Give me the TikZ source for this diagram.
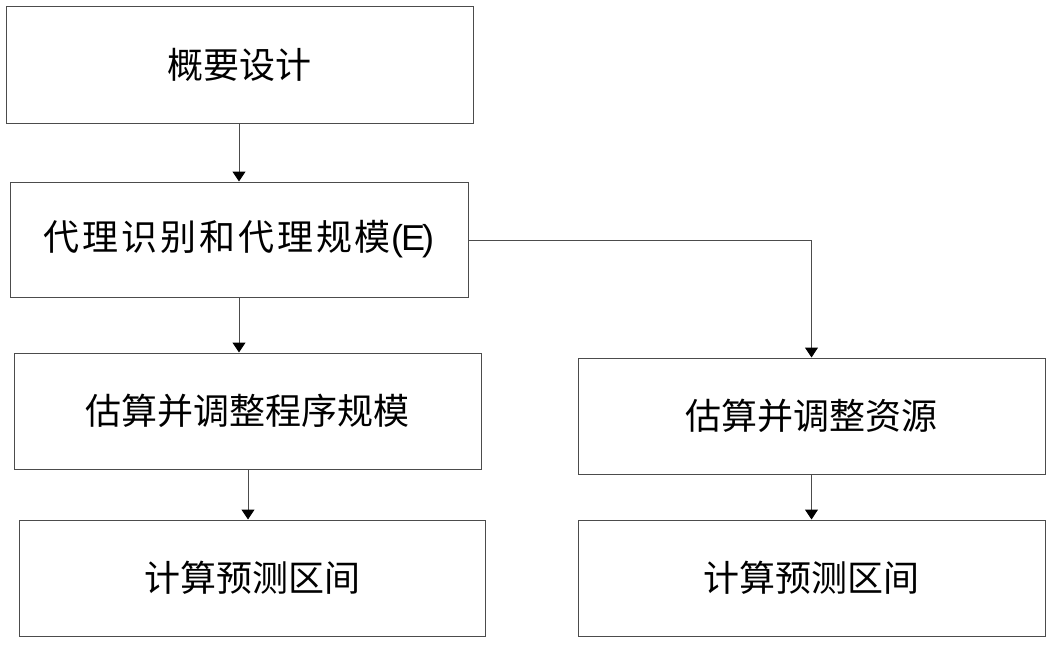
\documentclass[tikz,border=0pt]{standalone}
\usepackage{fontspec}
\newfontfamily\cjk{Noto Sans CJK SC}
\newfontfamily\cjkwide{Noto Sans CJK SC}[LetterSpace=8]
\newfontfamily\latin{Liberation Sans}
\usetikzlibrary{arrows.meta}
\begin{document}
\begin{tikzpicture}[x=1pt,y=-1pt,
  box/.style={draw=black!70,line width=1pt,inner sep=0pt,minimum width=467pt,minimum height=116pt,
    font=\cjk\fontsize{36}{40}\selectfont,text=black},
  conn/.style={draw=black!70,line width=1pt,-{Triangle[width=13pt,length=10pt,color=black]}}]
\useasboundingbox (0,0) rectangle (1056,646);
\node[box,minimum height=117pt] (b1) at (239.5,64.5) {概要设计};
\node[box,minimum width=458pt,minimum height=115pt] (b2) at (239,239.5) {{\cjkwide 代理识别和代理规模}{\latin(\kern-2pt E\kern-3pt)}};
\node[box] (b3) at (247.5,411) {估算并调整程序规模};
\node[box,minimum width=466pt] (b4) at (252,578) {计算预测区间};
\node[box] (b5) at (811.5,416) {估算并调整资源};
\node[box] (b6) at (811.5,578) {计算预测区间};
\draw[conn] (b1.south -| 239,0) -- (b2.north -| 239,0);
\draw[conn] (b2.south) -- (b2.south |- b3.north);
\draw[conn] (b3.south -| 248,0) -- (b4.north -| 248,0);
\draw[conn] (b2.east |- 0,240) -| (b5.north);
\draw[conn] (b5.south) -- (b6.north);
\end{tikzpicture}
\end{document}
